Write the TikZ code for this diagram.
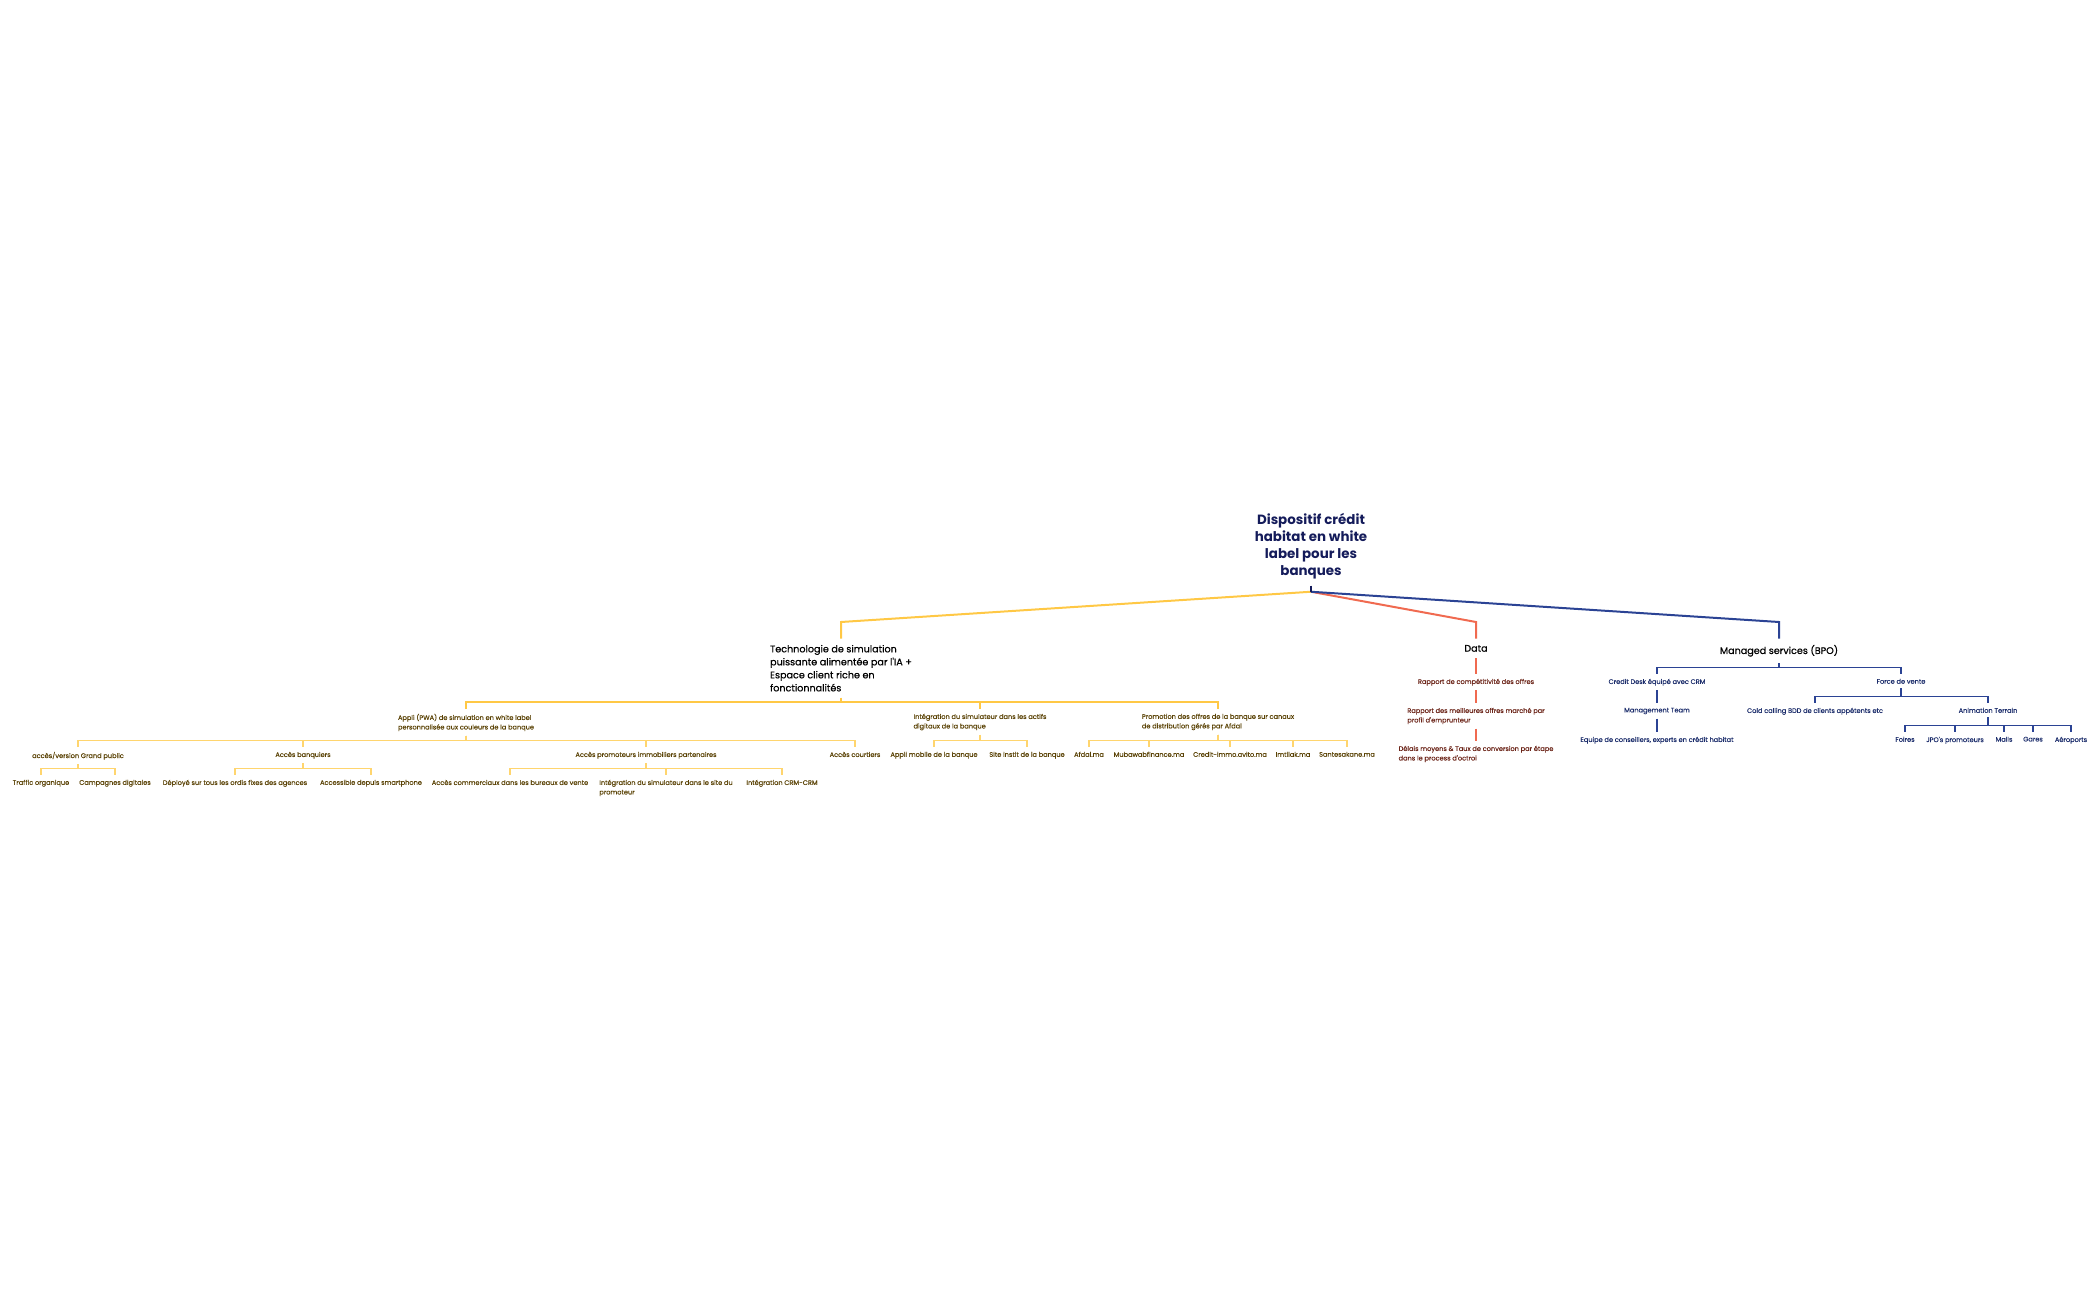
\documentclass[tikz,border=0pt]{standalone}
\usepackage{fontspec}
\setmainfont{Poppins}
\newfontfamily\medfont{Poppins}[FakeBold=0.6]
\newfontfamily\smallfont{Poppins}[FakeBold=0.25]
\usetikzlibrary{calc}
\definecolor{rootc}{HTML}{141B5A}
\definecolor{ylw}{HTML}{FFC845}
\definecolor{ylw2}{HTML}{FFD56E}
\definecolor{ytxt}{HTML}{5A4205}
\definecolor{redl}{HTML}{F06A50}
\definecolor{rtxt}{HTML}{6B2418}
\definecolor{bluel}{HTML}{2B4394}
\definecolor{btxt}{HTML}{1C2D6B}
\tikzset{
  rootnode/.style={inner sep=0pt, outer sep=7pt, anchor=north, align=center, text=rootc,
    font=\fontsize{13.4}{17}\bfseries\selectfont},
  lvlone/.style={inner sep=0pt, outer sep=6.5pt, anchor=north, align=left, text=black,
    font=\fontsize{9.6}{13}\medfont\selectfont},
  small/.style={inner sep=0pt, outer sep=4.5pt, anchor=north, align=left,
    font=\fontsize{6.6}{9.5}\smallfont\selectfont},
  ynode/.style={small, text=ytxt},
  rnode/.style={small, text=rtxt},
  bnode/.style={small, text=btxt},
  ymain/.style={draw=ylw, line width=2pt},
  ysub/.style={draw=ylw2, line width=1.5pt},
  rmain/.style={draw=redl, line width=2pt},
  rsub/.style={draw=redl, line width=1.3pt},
  bmain/.style={draw=bluel, line width=2pt},
  bsub/.style={draw=bluel, line width=1.3pt},
}
\newcommand\elb[3]{\draw[#1] (#2.south) |- ([yshift=7pt]#3.north) -- (#3.north);}
\begin{document}
\begin{tikzpicture}[x=1pt,y=-1pt]
\useasboundingbox (0,0) rectangle (2100,1300);
% root
\node[rootnode] (root) at (1311,506) {Dispositif crédit\\habitat en white\\label pour les\\banques};
\coordinate (rj) at ([yshift=-6pt]root.south);
% level one
\node[lvlone] (tech) at (841,638.5) {Technologie de simulation\\puissante alimentée par l'IA +\\Espace client riche en\\fonctionnalités};
\node[lvlone] (data) at (1476,638.5) {Data};
\node[lvlone] (bpo) at (1779,638.5) {Managed services (BPO)};
\draw[ymain] (rj) -- ([yshift=16.5pt]tech.north) -- (tech.north);
\draw[rmain] (rj) -- ([yshift=16.5pt]data.north) -- (data.north);
\draw[bmain] (rj) -- ([yshift=16.5pt]bpo.north) -- (bpo.north);
\draw[draw=rootc, line width=2pt] (root.south) -- (rj);
% yellow level two
\node[ynode] (appli) at (466,709.3) {Appli (PWA) de simulation en white label\\personnalisée aux couleurs de la banque};
\node[ynode] (integ) at (980,709.3) {Intégration du simulateur dans les actifs\\digitaux de la banque};
\node[ynode] (promo) at (1218,709.3) {Promotion des offres de la banque sur canaux\\de distribution gérés par Afdal};
\elb{ymain}{tech}{appli}
\elb{ymain}{tech}{integ}
\elb{ymain}{tech}{promo}
% yellow level three
\node[ynode] (gp) at (78,747.3) {accès/version Grand public};
\node[ynode] (banq) at (303,747.3) {Accès banquiers};
\node[ynode] (promot) at (646,747.3) {Accès promoteurs immobiliers partenaires};
\node[ynode] (court) at (855,747.3) {Accès courtiers};
\node[ynode] (appmob) at (934,747.3) {Appli mobile de la banque};
\node[ynode] (site) at (1027,747.3) {Site instit de la banque};
\node[ynode] (afdal) at (1089,747.3) {Afdal.ma};
\node[ynode] (mub) at (1149,747.3) {Mubawabfinance.ma};
\node[ynode] (avito) at (1230,747.3) {Credit-immo.avito.ma};
\node[ynode] (imtilak) at (1293,747.3) {Imtilak.ma};
\node[ynode] (sante) at (1347,747.3) {Santesakane.ma};
\foreach \c in {gp,banq,promot,court}{\elb{ysub}{appli}{\c}}
\foreach \c in {appmob,site}{\elb{ysub}{integ}{\c}}
\foreach \c in {afdal,mub,avito,imtilak,sante}{\elb{ysub}{promo}{\c}}
% yellow level four
\node[ynode] (traffic) at (41,775.3) {Traffic organique};
\node[ynode] (camp) at (115,775.3) {Campagnes digitales};
\node[ynode] (deploy) at (235,775.3) {Déployé sur tous les ordis fixes des agences};
\node[ynode] (access) at (371,775.3) {Accessible depuis smartphone};
\node[ynode] (acom) at (510,775.3) {Accès commerciaux dans les bureaux de vente};
\node[ynode] (intsite) at (666,775.3) {Intégration du simulateur dans le site du\\promoteur};
\node[ynode] (crm) at (782,775.3) {Intégration CRM-CRM};
\foreach \c in {traffic,camp}{\elb{ysub}{gp}{\c}}
\foreach \c in {deploy,access}{\elb{ysub}{banq}{\c}}
\foreach \c in {acom,intsite,crm}{\elb{ysub}{promot}{\c}}
% data branch
\node[rnode] (rcomp) at (1476,674.3) {Rapport de compétitivité des offres};
\node[rnode] (rmeil) at (1476,703.3) {Rapport des meilleures offres marché par\\profil d'emprunteur};
\node[rnode] (delais) at (1476,741.3) {Délais moyens \& Taux de conversion par étape\\dans le process d'octroi};
\draw[rsub] (data.south) -- (rcomp.north);
\draw[rsub] (rcomp.south) -- (rmeil.north);
\draw[rsub] (rmeil.south) -- (delais.north);
% BPO branch
\node[bnode] (desk) at (1657,674.3) {Credit Desk équipé avec CRM};
\node[bnode] (force) at (1901,674.3) {Force de vente};
\elb{bsub}{bpo}{desk}
\elb{bsub}{bpo}{force}
\node[bnode] (mgmt) at (1657,703.3) {Management Team};
\node[bnode] (equipe) at (1657,732.3) {Equipe de conseillers, experts en crédit habitat};
\draw[bsub] (desk.south) -- (mgmt.north);
\draw[bsub] (mgmt.south) -- (equipe.north);
\node[bnode] (cold) at (1815,703.3) {Cold calling BDD de clients appétents etc};
\node[bnode] (anim) at (1988,703.3) {Animation Terrain};
\elb{bsub}{force}{cold}
\elb{bsub}{force}{anim}
\node[bnode] (foires) at (1905,732.3) {Foires};
\node[bnode] (jpo) at (1955,732.3) {JPO's promoteurs};
\node[bnode] (malls) at (2004,732.3) {Malls};
\node[bnode] (gares) at (2033,732.3) {Gares};
\node[bnode] (aero) at (2071,732.3) {Aéroports};
\foreach \c in {foires,jpo,malls,gares,aero}{\elb{bsub}{anim}{\c}}
\end{tikzpicture}
\end{document}
